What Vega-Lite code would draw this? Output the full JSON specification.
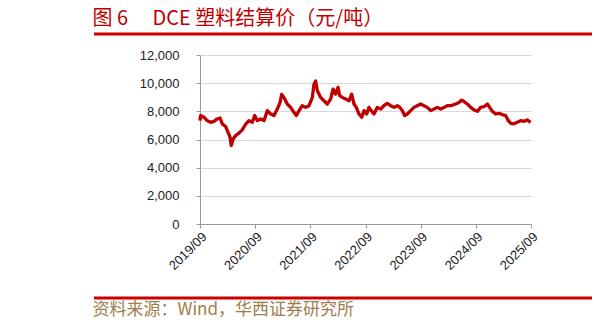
{
  "$schema": "https://vega.github.io/schema/vega-lite/v6.json",
  "padding": {"left": 92, "top": 8, "right": 4, "bottom": 6},
  "background": "white",
  "config": {"view": {"stroke": null}},
  "datasets": {
    "price": [
      {"date": "2019-09-01", "price": 7340},
      {"date": "2019-09-05", "price": 7700},
      {"date": "2019-09-27", "price": 7580},
      {"date": "2019-10-19", "price": 7340},
      {"date": "2019-11-10", "price": 7220},
      {"date": "2019-12-02", "price": 7290},
      {"date": "2019-12-24", "price": 7460},
      {"date": "2020-01-11", "price": 7530},
      {"date": "2020-01-27", "price": 7100},
      {"date": "2020-02-18", "price": 6920},
      {"date": "2020-02-29", "price": 6630},
      {"date": "2020-03-18", "price": 6160},
      {"date": "2020-03-26", "price": 5580},
      {"date": "2020-04-09", "price": 6050},
      {"date": "2020-04-24", "price": 6280},
      {"date": "2020-05-16", "price": 6450},
      {"date": "2020-06-07", "price": 6680},
      {"date": "2020-06-30", "price": 7100},
      {"date": "2020-07-21", "price": 7340},
      {"date": "2020-08-12", "price": 7220},
      {"date": "2020-08-28", "price": 7700},
      {"date": "2020-09-15", "price": 7340},
      {"date": "2020-10-07", "price": 7460},
      {"date": "2020-10-29", "price": 7340},
      {"date": "2020-11-20", "price": 8050},
      {"date": "2020-12-12", "price": 7810},
      {"date": "2021-01-03", "price": 7700},
      {"date": "2021-01-25", "price": 8160},
      {"date": "2021-02-12", "price": 8630},
      {"date": "2021-02-23", "price": 9200},
      {"date": "2021-03-10", "price": 8990},
      {"date": "2021-04-01", "price": 8520},
      {"date": "2021-04-23", "price": 8280},
      {"date": "2021-05-15", "price": 7930},
      {"date": "2021-05-31", "price": 7700},
      {"date": "2021-06-18", "price": 8050},
      {"date": "2021-07-09", "price": 8400},
      {"date": "2021-08-01", "price": 8280},
      {"date": "2021-08-23", "price": 8400},
      {"date": "2021-09-14", "price": 8990},
      {"date": "2021-09-25", "price": 9930},
      {"date": "2021-10-06", "price": 10160},
      {"date": "2021-10-17", "price": 9460},
      {"date": "2021-11-08", "price": 8990},
      {"date": "2021-11-30", "price": 8750},
      {"date": "2021-12-22", "price": 8520},
      {"date": "2022-01-13", "price": 8870},
      {"date": "2022-01-29", "price": 9580},
      {"date": "2022-02-15", "price": 9220},
      {"date": "2022-03-03", "price": 9700},
      {"date": "2022-03-14", "price": 9110},
      {"date": "2022-03-31", "price": 8990},
      {"date": "2022-04-23", "price": 8870},
      {"date": "2022-05-15", "price": 8750},
      {"date": "2022-06-01", "price": 9220},
      {"date": "2022-06-17", "price": 8520},
      {"date": "2022-07-02", "price": 8280},
      {"date": "2022-07-20", "price": 7810},
      {"date": "2022-08-07", "price": 7580},
      {"date": "2022-08-22", "price": 8050},
      {"date": "2022-09-09", "price": 7810},
      {"date": "2022-09-24", "price": 8280},
      {"date": "2022-10-09", "price": 8050},
      {"date": "2022-10-27", "price": 7810},
      {"date": "2022-11-18", "price": 8280},
      {"date": "2022-12-11", "price": 8160},
      {"date": "2023-01-01", "price": 8400},
      {"date": "2023-01-23", "price": 8560},
      {"date": "2023-02-15", "price": 8400},
      {"date": "2023-03-09", "price": 8280},
      {"date": "2023-03-31", "price": 8400},
      {"date": "2023-04-17", "price": 8280},
      {"date": "2023-05-03", "price": 8050},
      {"date": "2023-05-18", "price": 7700},
      {"date": "2023-06-05", "price": 7810},
      {"date": "2023-06-27", "price": 8050},
      {"date": "2023-07-19", "price": 8280},
      {"date": "2023-08-10", "price": 8400},
      {"date": "2023-09-01", "price": 8520},
      {"date": "2023-09-23", "price": 8400},
      {"date": "2023-10-15", "price": 8280},
      {"date": "2023-11-07", "price": 8050},
      {"date": "2023-11-29", "price": 8160},
      {"date": "2023-12-21", "price": 8280},
      {"date": "2024-01-12", "price": 8160},
      {"date": "2024-02-03", "price": 8280},
      {"date": "2024-02-25", "price": 8400},
      {"date": "2024-03-18", "price": 8400},
      {"date": "2024-04-20", "price": 8520},
      {"date": "2024-05-12", "price": 8630},
      {"date": "2024-05-30", "price": 8800},
      {"date": "2024-06-14", "price": 8700},
      {"date": "2024-07-06", "price": 8520},
      {"date": "2024-07-29", "price": 8280},
      {"date": "2024-08-20", "price": 8100},
      {"date": "2024-09-11", "price": 8000},
      {"date": "2024-10-03", "price": 8280},
      {"date": "2024-10-25", "price": 8330},
      {"date": "2024-11-16", "price": 8520},
      {"date": "2024-12-01", "price": 8280},
      {"date": "2024-12-19", "price": 8000},
      {"date": "2025-01-10", "price": 7810},
      {"date": "2025-02-01", "price": 7860},
      {"date": "2025-02-23", "price": 7770},
      {"date": "2025-03-17", "price": 7700},
      {"date": "2025-04-04", "price": 7340},
      {"date": "2025-04-19", "price": 7150},
      {"date": "2025-05-11", "price": 7110},
      {"date": "2025-06-02", "price": 7220},
      {"date": "2025-06-25", "price": 7340},
      {"date": "2025-07-17", "price": 7290},
      {"date": "2025-08-07", "price": 7390},
      {"date": "2025-08-29", "price": 7220}
    ]
  },
  "columns": 1,
  "align": "none",
  "spacing": 13,
  "concat": [
    {
      "width": 498,
      "height": 1,
      "title": {
        "text": "图 6　 DCE 塑料结算价（元/吨）",
        "orient": "top",
        "anchor": "start",
        "frame": "bounds",
        "font": "Noto Sans CJK SC",
        "fontSize": 20,
        "fontWeight": "normal",
        "color": "#c00000",
        "offset": 4
      },
      "data": {"values": [{"v": 0}]},
      "mark": {"type": "rule", "color": "#cc0000", "strokeWidth": 3},
      "encoding": {
        "y": {"field": "v", "type": "quantitative", "axis": null, "scale": {"domain": [0, 1]}}
      }
    },
    {
      "spacing": 0,
      "hconcat": [
        {
          "width": 45,
          "height": 169,
          "data": {"values": []},
          "mark": "point",
          "encoding": {}
        },
        {
          "width": 331,
          "height": 169,
          "data": {"name": "price"},
          "mark": {"type": "line", "color": "#c00000", "strokeWidth": 3.3, "strokeJoin": "round"},
          "encoding": {
            "x": {
              "field": "date",
              "type": "temporal",
              "scale": {"type": "utc", "domain": [{"year": 2019, "month": 9, "date": 1, "utc": true}, {"year": 2025, "month": 9, "date": 1, "utc": true}]},
              "axis": {
                "title": null,
                "grid": false,
                "format": "%Y/%m",
                "values": [
                  {"year": 2019, "month": 9, "date": 1, "utc": true},
                  {"year": 2020, "month": 9, "date": 1, "utc": true},
                  {"year": 2021, "month": 9, "date": 1, "utc": true},
                  {"year": 2022, "month": 9, "date": 1, "utc": true},
                  {"year": 2023, "month": 9, "date": 1, "utc": true},
                  {"year": 2024, "month": 9, "date": 1, "utc": true},
                  {"year": 2025, "month": 9, "date": 1, "utc": true}
                ],
                "labelAngle": -45,
                "labelFont": "Liberation Sans",
                "labelFontSize": 13,
                "labelColor": "#222",
                "labelPadding": 2,
                "domainColor": "#999",
                "tickColor": "#999",
                "tickSize": 4
              }
            },
            "y": {
              "field": "price",
              "type": "quantitative",
              "scale": {"domain": [0, 12000]},
              "axis": {
                "title": null,
                "values": [0, 2000, 4000, 6000, 8000, 10000, 12000],
                "format": ",.0f",
                "grid": true,
                "gridColor": "#d9d9d9",
                "domainColor": "#999",
                "tickColor": "#999",
                "tickSize": 4,
                "labelPadding": 17,
                "labelFont": "Liberation Sans",
                "labelFontSize": 13,
                "labelColor": "#222"
              }
            }
          }
        }
      ]
    },
    {
      "width": 498,
      "height": 12,
      "title": {
        "text": "资料来源：Wind，华西证券研究所",
        "orient": "bottom",
        "anchor": "start",
        "frame": "bounds",
        "font": "Noto Sans CJK SC",
        "fontSize": 17,
        "fontWeight": "normal",
        "color": "#a07d4b",
        "offset": 2
      },
      "data": {"values": [{"v": 0}]},
      "mark": {"type": "rule", "color": "#cc0000", "strokeWidth": 3},
      "encoding": {
        "y": {"field": "v", "type": "quantitative", "axis": null, "scale": {"domain": [0, 1]}}
      }
    }
  ]
}
